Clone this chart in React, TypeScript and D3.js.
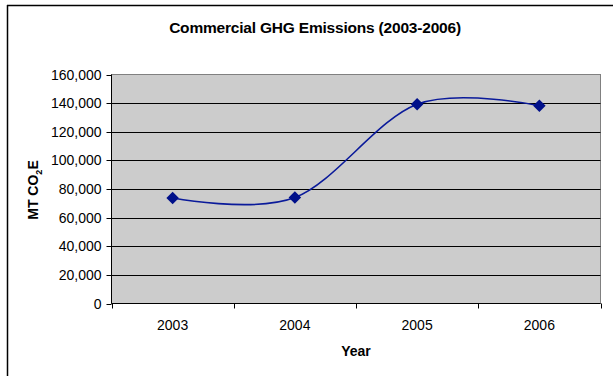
import React from "react";
import * as d3 from "d3";

const years = ["2003", "2004", "2005", "2006"];
const emissions = [73700, 74000, 139200, 138200];
const yTicks = [0, 20000, 40000, 60000, 80000, 100000, 120000, 140000, 160000];

const W = 613;
const H = 377;
const plot = { left: 111.5, right: 600.5, top: 74.5, bottom: 303.5 };

export default function App() {
  const x = d3.scaleBand<string>().domain(years).range([plot.left, plot.right]).padding(0);
  const y = d3.scaleLinear().domain([0, 160000]).range([plot.bottom, plot.top]);
  const cx = (d: string) => (x(d) ?? 0) + x.bandwidth() / 2;

  const pts: [number, number][] = years.map((yr, i) => [cx(yr), y(emissions[i])]);
  const line = d3.line().curve(d3.curveCardinal.tension(0))(pts) ?? "";
  const diamond = d3.symbol().type(d3.symbolDiamond2).size(100)() ?? "";

  const boundaries = [...years.map((d) => x(d) ?? 0), plot.right];
  const font = "'Liberation Sans', Arial, sans-serif";

  return (
    <svg
      width={W}
      height={H}
      style={{ position: "absolute", left: 0, top: 0, fontFamily: font }}
    >
      <rect x={0} y={0} width={W} height={H} fill="#fff" />
      {/* chart frame */}
      <line x1={7} y1={5.5} x2={W} y2={5.5} stroke="#000" strokeWidth={1.5} />
      <line x1={7.5} y1={5} x2={7.5} y2={376} stroke="#000" strokeWidth={1.5} />

      <text x={315} y={33} textAnchor="middle" fontSize={15.5} fontWeight="bold" letterSpacing={-0.2}>
        Commercial GHG Emissions (2003-2006)
      </text>

      {/* plot area */}
      <rect
        x={plot.left}
        y={plot.top}
        width={plot.right - plot.left}
        height={plot.bottom - plot.top}
        fill="#cccccc"
        stroke="#808080"
        strokeWidth={1}
      />
      {yTicks.slice(1, -1).map((t) => (
        <line key={t} x1={plot.left} x2={plot.right} y1={Math.round(y(t)) + 0.5} y2={Math.round(y(t)) + 0.5} stroke="#000" strokeWidth={1} />
      ))}

      {/* y axis */}
      <line x1={plot.left} x2={plot.left} y1={plot.top} y2={plot.bottom} stroke="#000" />
      {yTicks.map((t) => (
        <g key={t}>
          <line x1={plot.left - 5} x2={plot.left} y1={Math.round(y(t)) + 0.5} y2={Math.round(y(t)) + 0.5} stroke="#000" />
          <text x={plot.left - 10} y={y(t) + 5} textAnchor="end" fontSize={14}>
            {d3.format(",")(t)}
          </text>
        </g>
      ))}

      {/* x axis */}
      <line x1={plot.left} x2={plot.right} y1={plot.bottom} y2={plot.bottom} stroke="#000" />
      {boundaries.map((b, i) => (
        <line key={i} x1={Math.round(b) + 0.5} x2={Math.round(b) + 0.5} y1={plot.bottom} y2={plot.bottom + 5} stroke="#000" />
      ))}
      {years.map((yr) => (
        <text key={yr} x={cx(yr)} y={330} textAnchor="middle" fontSize={14}>
          {yr}
        </text>
      ))}

      <text x={356} y={356} textAnchor="middle" fontSize={14} fontWeight="bold">
        Year
      </text>
      <text transform="translate(38,190) rotate(-90)" textAnchor="middle" fontSize={14} fontWeight="bold">
        MT CO<tspan fontSize={9} dy={4}>2</tspan>
        <tspan dy={-4}>E</tspan>
      </text>

      {/* series */}
      <path d={line} fill="none" stroke="#0a1a9a" strokeWidth={1.6} />
      {pts.map(([px, py], i) => (
        <path key={years[i]} d={diamond} transform={`translate(${px},${py})`} fill="#00108a" />
      ))}
    </svg>
  );
}
